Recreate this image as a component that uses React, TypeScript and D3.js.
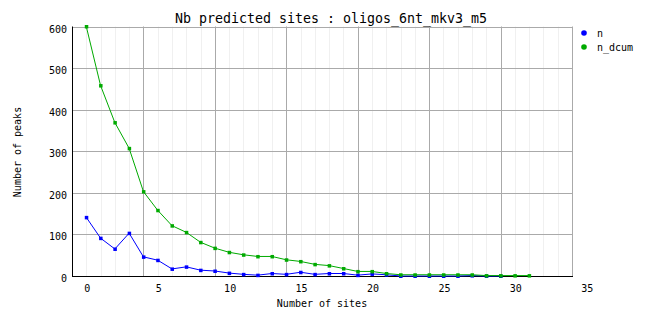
import React from "react";
import * as d3 from "d3";

const title = "Nb predicted sites : oligos_6nt_mkv3_m5";
const xLabel = "Number of sites";
const yLabel = "Number of peaks";
const seriesNames = ["n", "n_dcum"];
const seriesColors = ["#0000ff", "#00aa00"];
const nValues = [141, 91, 65, 103, 46, 38, 17, 22, 14, 12, 7, 4, 2, 6, 4, 9, 4, 6, 6, 2, 5, 3, 0, 0, 0, 0, 0, 1, 0, 0];
const nDcumValues = [600, 458, 369, 307, 203, 158, 121, 105, 81, 67, 57, 51, 47, 47, 39, 35, 28, 25, 18, 11, 11, 6, 3, 3, 3, 3, 3, 3, 1, 1, 1, 1];
const xTickLabels = [0, 5, 10, 15, 20, 25, 30, 35];
const xMajorGrid = [4, 9, 14, 19, 24, 29, 34];
const yTicks = [0, 100, 200, 300, 400, 500, 600];

const W = 662, H = 328;
const left = 72, right = 572, top = 26.5, bottom = 276;
const font = "'DejaVu Sans Mono', monospace";

export default function App() {
  const x = d3.scaleLinear().domain([-1, 34]).range([left, right]);
  const y = d3.scaleLinear().domain([0, 600]).range([bottom, top]);
  const series = [nValues, nDcumValues];
  const line = d3.line<number>().x((_, i) => x(i)).y((d) => y(d));
  const minor = d3.range(0, 34);

  return (
    <svg width={W} height={H} style={{ position: "absolute", left: 0, top: 0, background: "#fff" }}>
      <rect x={0} y={0} width={W} height={H} fill="#fff" />
      {minor.map((m) => (
        <line key={"mn" + m} x1={Math.round(x(m)) + 0.5} x2={Math.round(x(m)) + 0.5} y1={top} y2={bottom} stroke="#f0f0f0" strokeWidth={1} />
      ))}
      {yTicks.slice(1).map((t) => (
        <line key={"hy" + t} x1={left} x2={right} y1={Math.round(y(t)) + 0.5} y2={Math.round(y(t)) + 0.5} stroke="#aaaaaa" strokeWidth={1} />
      ))}
      {xMajorGrid.map((g) => (
        <line key={"mj" + g} x1={Math.round(x(g)) + 0.5} x2={Math.round(x(g)) + 0.5} y1={top} y2={bottom} stroke="#aaaaaa" strokeWidth={1} />
      ))}
      <line x1={left + 0.5} x2={left + 0.5} y1={top} y2={bottom + 1} stroke="#000" strokeWidth={1} />
      <line x1={left} x2={right + 1} y1={bottom + 0.5} y2={bottom + 0.5} stroke="#000" strokeWidth={1} />
      {yTicks.map((t) => (
        <text key={"yl" + t} x={67} y={y(t) + 6} textAnchor="end" fontFamily={font} fontSize={10} fill="#000">{t}</text>
      ))}
      {xTickLabels.map((t) => (
        <text key={"xl" + t} x={x(t) + 1} y={292} textAnchor="middle" fontFamily={font} fontSize={10} fill="#000">{t}</text>
      ))}
      {series.map((s, k) => (
        <g key={"s" + k}>
          <path d={line(s) || ""} fill="none" stroke={seriesColors[k]} strokeWidth={1} />
          {s.map((v, i) => (
            <rect key={i} x={x(i) - 1.5} y={y(v) - 1.5} width={3.5} height={3.5} fill={seriesColors[k]} />
          ))}
        </g>
      ))}
      <text x={331} y={23} textAnchor="middle" fontFamily={font} fontSize={13.3} fill="#000">{title}</text>
      <text x={322} y={307} textAnchor="middle" fontFamily={font} fontSize={10} fill="#000">{xLabel}</text>
      <text transform={`translate(21,152) rotate(-90)`} textAnchor="middle" fontFamily={font} fontSize={10} fill="#000">{yLabel}</text>
      {seriesNames.map((nm, k) => (
        <g key={"lg" + k}>
          <circle cx={584} cy={33 + k * 14} r={2.8} fill={seriesColors[k]} />
          <text x={597} y={37 + k * 14} fontFamily={font} fontSize={10} fill="#000">{nm}</text>
        </g>
      ))}
    </svg>
  );
}
